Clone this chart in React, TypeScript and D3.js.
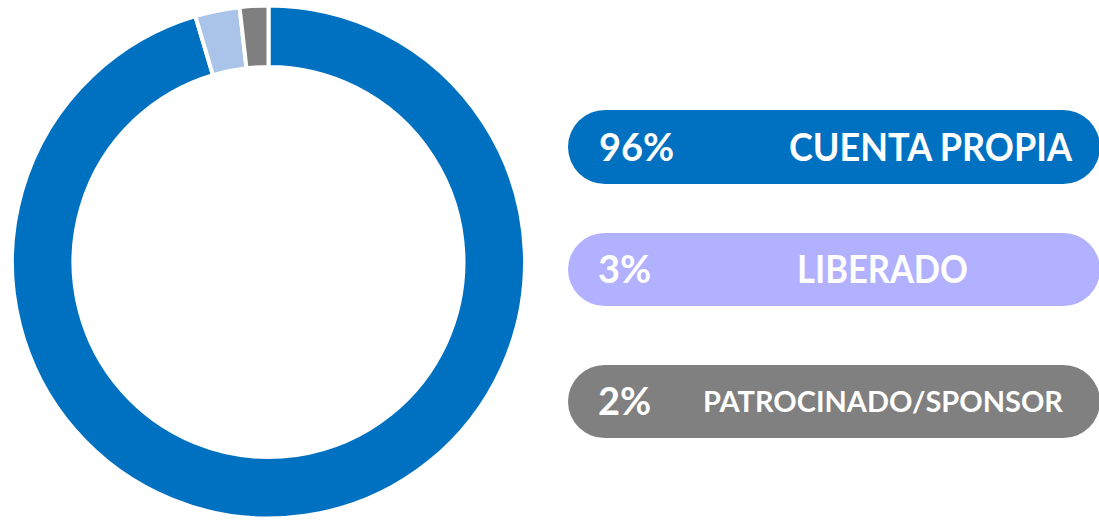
import React from "react";
import * as d3 from "d3";

const categories = ["CUENTA PROPIA", "LIBERADO", "PATROCINADO/SPONSOR"];
const values = [95.4, 2.8, 1.8];
const percentLabels = ["96%", "3%", "2%"];
const sliceColors = ["#0070C0", "#A9C4E8", "#7F7F7F"];
const pillColors = ["#0070C0", "#B1B1FF", "#808080"];

const W = 1099;
const H = 520;

export default function App() {
  const cx = 268.5;
  const cy = 262;
  const outerR = 256.5;
  const innerR = 195;

  const pie = d3
    .pie<number>()
    .sort(null)
    .value((d) => d)
    .startAngle(0)
    .endAngle(2 * Math.PI);
  const arcs = pie(values);
  const arcGen = d3.arc<d3.PieArcDatum<number>>().innerRadius(innerR).outerRadius(outerR);

  const pills = [
    { y: 110, h: 74, fs: 38, pct: { x: 599 }, lab: { x: 789, w: 283, fs: 38 } },
    { y: 233, h: 73, fs: 38, pct: { x: 598 }, lab: { x: 797, w: 171, fs: 38 } },
    { y: 365, h: 73, fs: 38, pct: { x: 598 }, lab: { x: 703, w: 360, fs: 28 } },
  ];

  return (
    <svg
      width={W}
      height={H}
      style={{ position: "absolute", left: 0, top: 0, background: "#fff" }}
      fontFamily="Lato, 'Open Sans', sans-serif"
    >
      <g transform={`translate(${cx},${cy})`}>
        {arcs.map((a, i) => (
          <path key={i} d={arcGen(a) || ""} fill={sliceColors[i]} stroke="#fff" strokeWidth={4} />
        ))}
      </g>
      {categories.map((c, i) => {
        const p = pills[i];
        const cyP = p.y + p.h / 2;
        return (
          <g key={c}>
            <rect x={568} y={p.y} width={532} height={p.h} rx={p.h / 2} ry={p.h / 2} fill={pillColors[i]} />
            <text x={p.pct.x} y={cyP} dy="0.36em" fill="#fff" fontWeight={700} fontSize={p.fs}>
              {percentLabels[i]}
            </text>
            <text
              x={p.lab.x}
              y={cyP}
              dy="0.36em"
              fill="#fff"
              fontWeight={700}
              fontSize={p.lab.fs}
              textLength={p.lab.w}
              lengthAdjust="spacingAndGlyphs"
            >
              {c}
            </text>
          </g>
        );
      })}
    </svg>
  );
}
